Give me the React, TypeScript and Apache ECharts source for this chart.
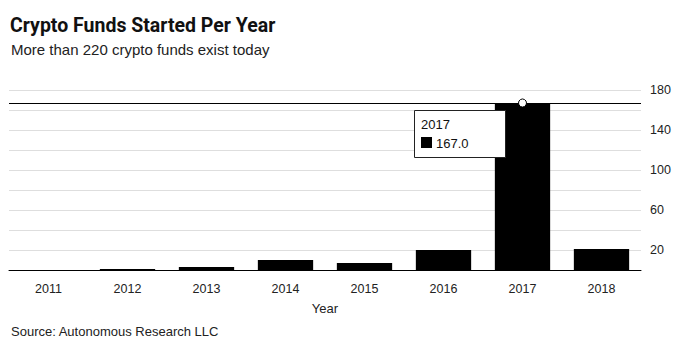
import React, { useEffect, useRef } from "react";
import * as echarts from "echarts";

const years = ["2011", "2012", "2013", "2014", "2015", "2016", "2017", "2018"];
const fundsStarted = [0, 1, 3, 10, 7, 20, 167, 21];
const highlightIndex = 6;
const yTickLabels = [20, 60, 100, 140, 180];

const FONT = "'Liberation Sans', Arial, sans-serif";

export default function App() {
  const ref = useRef<HTMLDivElement>(null);

  useEffect(() => {
    if (!ref.current) return;
    const chart = echarts.init(ref.current, undefined, { renderer: "svg" });
    const hiYear = years[highlightIndex];
    const hiVal = fundsStarted[highlightIndex];
    chart.setOption({
      animation: false,
      backgroundColor: "#ffffff",
      textStyle: { fontFamily: FONT },
      title: [
        {
          text: "Crypto Funds Started Per Year",
          left: 10,
          top: 15,
          padding: 0,
          textStyle: { fontFamily: "Roboto, " + FONT, fontWeight: "bold", fontSize: 19.5, color: "#111" },
        },
        {
          text: "More than 220 crypto funds exist today",
          left: 11,
          top: 42,
          padding: 0,
          textStyle: { fontFamily: FONT, fontWeight: "normal", fontSize: 15, color: "#222" },
        },
        {
          text: "Source: Autonomous Research LLC",
          left: 11,
          top: 325,
          padding: 0,
          textStyle: { fontFamily: FONT, fontWeight: "normal", fontSize: 13, color: "#222" },
        },
      ],
      grid: { left: 9, right: 40, top: 90, bottom: 84 },
      xAxis: {
        type: "category",
        data: years,
        name: "Year",
        nameLocation: "middle",
        nameGap: 32,
        nameTextStyle: { fontFamily: FONT, fontSize: 13, color: "#222" },
        axisLine: { lineStyle: { color: "#000", width: 1 } },
        axisTick: { alignWithLabel: true, length: 5, lineStyle: { color: "#000" } },
        axisLabel: { margin: 12, fontFamily: FONT, fontSize: 12.5, color: "#222" },
      },
      yAxis: {
        type: "value",
        position: "right",
        min: 0,
        max: 180,
        interval: 20,
        axisLine: { show: false },
        axisTick: { show: false },
        axisLabel: {
          margin: 9,
          fontFamily: FONT,
          fontSize: 12.5,
          color: "#222",
          formatter: (v: number) => (yTickLabels.indexOf(v) >= 0 ? String(v) : ""),
        },
        splitLine: { lineStyle: { color: "#dedede", width: 1 } },
      },
      series: [
        {
          type: "bar",
          data: fundsStarted,
          barCategoryGap: "30%",
          itemStyle: { color: "#000" },
          silent: true,
          markLine: {
            silent: true,
            symbol: ["none", "none"],
            label: { show: false },
            lineStyle: { color: "#000", width: 1, type: "solid" },
            data: [{ yAxis: hiVal }],
          },
          markPoint: {
            silent: true,
            symbol: "circle",
            symbolSize: 8,
            label: { show: false },
            itemStyle: { color: "#fff", borderColor: "#000", borderWidth: 1 },
            data: [{ coord: [hiYear, hiVal] }],
          },
        },
      ],
      graphic: [
        {
          type: "group",
          left: 414,
          top: 110,
          z: 100,
          children: [
            {
              type: "rect",
              z: 100,
              shape: { x: 0.5, y: 0.5, width: 91, height: 47 },
              style: { fill: "#fff", stroke: "#222", lineWidth: 1 },
            },
            {
              type: "text",
              z: 101,
              x: 7,
              y: 14,
              style: { text: hiYear, font: "13px " + FONT, fill: "#111", verticalAlign: "middle" },
            },
            {
              type: "rect",
              z: 101,
              shape: { x: 7, y: 27, width: 11, height: 11 },
              style: { fill: "#000" },
            },
            {
              type: "text",
              z: 101,
              x: 22,
              y: 33,
              style: { text: hiVal.toFixed(1), font: "13px " + FONT, fill: "#111", verticalAlign: "middle" },
            },
          ],
        },
      ],
    });
    return () => chart.dispose();
  }, []);

  return (
    <div
      ref={ref}
      style={{ position: "fixed", left: 0, top: 0, width: 681, height: 354 }}
    />
  );
}
